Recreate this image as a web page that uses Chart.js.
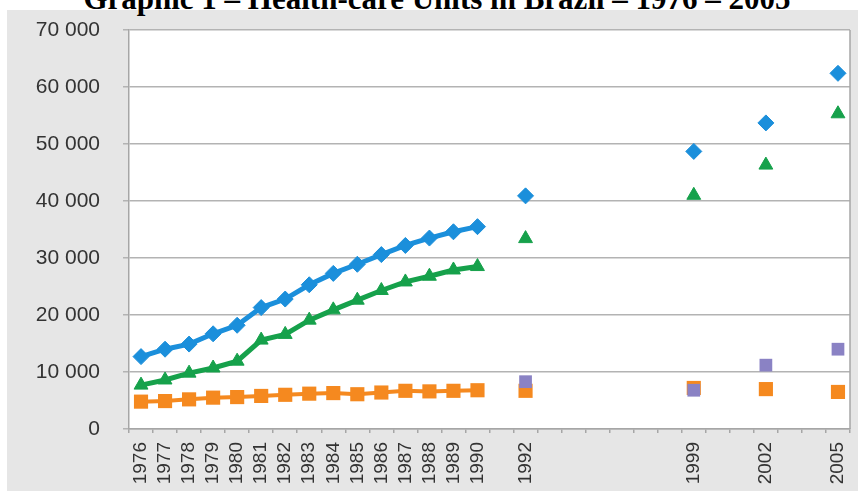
<!DOCTYPE html>
<html>
<head>
<meta charset="utf-8">
<script src="https://cdn.jsdelivr.net/npm/chart.js@4/dist/chart.umd.min.js"></script>
<style>
  html, body { margin: 0; padding: 0; background: #ffffff; overflow: hidden; }
  #wrap { position: relative; width: 860px; height: 491px; overflow: hidden; }
  #panel { position: absolute; left: 7px; top: 10px; width: 851px; height: 481px; background: #e6e6e6; }
  #title { position: absolute; left: 0; top: -17px; width: 874px; text-align: center;
           font: bold 31px "Liberation Serif", "Times New Roman", serif; line-height: 31px; color: #000; white-space: nowrap; }
  #c { position: absolute; left: 0; top: 0; }
</style>
</head>
<body>
<div id="wrap">
  <div id="panel"></div>
  <div id="title">Graphic 1 – Health-care Units in Brazil – 1976 – 2005</div>
  <canvas id="c" width="860" height="491"></canvas>
</div>
<script>
// Years on the category axis (one slot per year, 1976–2005)
const years = [];
for (let y = 1976; y <= 2005; y++) years.push(String(y));

// Years that carry a label under the axis
const labelledYears = ['1976','1977','1978','1979','1980','1981','1982','1983','1984','1985',
  '1986','1987','1988','1989','1990','1992','1999','2002','2005'];

// Series values (null = no observation that year)
const seriesBlue = [12700, 14000, 14900, 16700, 18200, 21300, 22800, 25300, 27300, 28900,
  30600, 32200, 33500, 34600, 35500, null, 40900, null, null, null, null, null, null, 48700,
  null, null, 53700, null, null, 62400];
const seriesGreen = [7700, 8600, 9800, 10700, 11900, 15600, 16600, 19100, 20900, 22600,
  24300, 25800, 26800, 27900, 28500, null, 33400, null, null, null, null, null, null, 41000,
  null, null, 46300, null, null, 55300];
const seriesOrange = [4800, 4900, 5200, 5500, 5600, 5800, 6000, 6200, 6300, 6100,
  6400, 6700, 6600, 6700, 6800, null, 6700, null, null, null, null, null, null, 7200,
  null, null, 7000, null, null, 6500];
const seriesPurple = [null, null, null, null, null, null, null, null, null, null,
  null, null, null, null, null, null, 8300, null, null, null, null, null, null, 6800,
  null, null, 11200, null, null, 14000];

// Y-axis tick values
const yTicks = [0, 10000, 20000, 30000, 40000, 50000, 60000, 70000];

const BLUE = '#1b8fdb', GREEN = '#16a14b', ORANGE = '#f5891f', PURPLE = '#8a82c4';

const plotFrame = {
  id: 'plotFrame',
  beforeDraw(chart) {
    const { ctx, chartArea: a } = chart;
    ctx.save();
    ctx.fillStyle = '#ffffff';
    ctx.fillRect(a.left, a.top, a.right - a.left, a.bottom - a.top);
    ctx.restore();
  },
  afterDraw(chart) {
    const { ctx, chartArea: a } = chart;
    ctx.save();
    ctx.strokeStyle = '#a6a6a6';
    ctx.lineWidth = 1.5;
    ctx.beginPath();
    ctx.moveTo(a.right, a.top);
    ctx.lineTo(a.right, a.bottom);
    ctx.stroke();
    ctx.restore();
  }
};

new Chart(document.getElementById('c'), {
  type: 'line',
  data: {
    labels: years,
    datasets: [
      { label: 'purple', data: seriesPurple, order: 0, showLine: false,
        pointStyle: 'rect', pointRadius: 9, pointHoverRadius: 9,
        backgroundColor: PURPLE, borderColor: PURPLE, pointBorderWidth: 0 },
      { label: 'blue', data: seriesBlue, order: 1, borderColor: BLUE, borderWidth: 5,
        pointStyle: 'rectRot', pointRadius: 8, pointHoverRadius: 8,
        backgroundColor: BLUE, pointBorderWidth: 1 },
      { label: 'green', data: seriesGreen, order: 2, borderColor: GREEN, borderWidth: 5,
        pointStyle: 'triangle', pointRadius: 8, pointHoverRadius: 8,
        backgroundColor: GREEN, pointBorderWidth: 1 },
      { label: 'orange', data: seriesOrange, order: 3, borderColor: ORANGE, borderWidth: 4,
        pointStyle: 'rect', pointRadius: 10, pointHoverRadius: 10,
        backgroundColor: ORANGE, pointBorderWidth: 0 }
    ]
  },
  options: {
    responsive: false,
    animation: false,
    spanGaps: false,
    layout: { padding: { left: 0, top: 30, right: 10, bottom: 0 } },
    plugins: { legend: { display: false }, title: { display: false }, tooltip: { enabled: false } },
    elements: { line: { tension: 0 } },
    scales: {
      x: {
        type: 'category',
        offset: true,
        grid: { display: true, offset: true, drawOnChartArea: false, drawTicks: true,
                tickLength: 4, color: '#a6a6a6', lineWidth: 1.5 },
        border: { color: '#a6a6a6', width: 1.5 },
        ticks: {
          autoSkip: false, minRotation: 90, maxRotation: 90, padding: 9,
          color: '#333333', font: { family: 'Liberation Sans, Arial, sans-serif', size: 19 },
          callback(v) { const l = this.getLabelForValue(v); return labelledYears.includes(l) ? l : ''; }
        },
        afterFit(s) { s.height = 62; s.paddingLeft = 0; s.paddingRight = 0; }
      },
      y: {
        min: 0, max: 70000,
        afterBuildTicks(s) { s.ticks = yTicks.map(v => ({ value: v })); },
        grid: { color: '#b3b3b3', lineWidth: 1.5, tickLength: 6, drawTicks: true },
        border: { color: '#a6a6a6', width: 1.5 },
        ticks: {
          padding: 23, color: '#333333',
          font: { family: 'Liberation Sans, Arial, sans-serif', size: 21 },
          callback(v) { return String(v).replace(/\B(?=(\d{3})+(?!\d))/g, ' '); }
        },
        afterFit(s) { s.width = 129; s.paddingTop = 0; s.paddingBottom = 0; }
      }
    }
  },
  plugins: [plotFrame]
});
</script>
</body>
</html>
